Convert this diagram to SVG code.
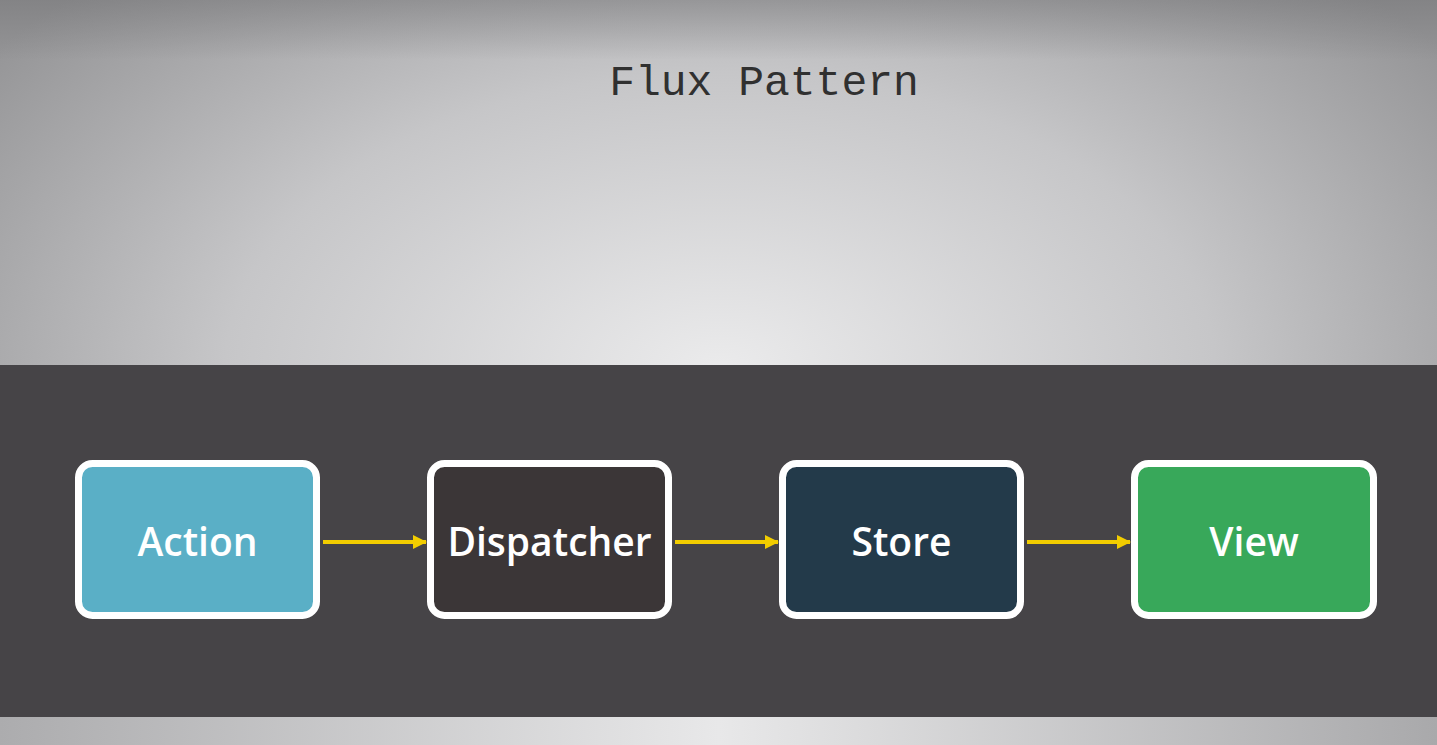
<svg xmlns="http://www.w3.org/2000/svg" width="1437" height="745" viewBox="0 0 1437 745">
<style>
.box{stroke:#ffffff;stroke-width:7}
.lbl{font-family:"Open Sans","Noto Sans",sans-serif;font-weight:600;font-size:39px;fill:#ffffff;text-anchor:middle}
.conn{stroke:#f2cd00;stroke-width:4;fill:none}
</style>
<defs>
<radialGradient id="bg" cx="720" cy="370" r="900" gradientUnits="userSpaceOnUse" gradientTransform="translate(720 370) scale(1 0.6) translate(-720 -370)">
<stop offset="0" stop-color="#ebebec"/>
<stop offset="0.55" stop-color="#c6c6c8"/>
<stop offset="1" stop-color="#959597"/>
</radialGradient>
<linearGradient id="topshade" x1="0" y1="0" x2="0" y2="1">
<stop offset="0" stop-color="#6e6e70" stop-opacity="0.45"/>
<stop offset="1" stop-color="#6e6e70" stop-opacity="0"/>
</linearGradient>
<linearGradient id="bot" x1="0" y1="0" x2="1" y2="0">
<stop offset="0" stop-color="#acacae"/>
<stop offset="0.5" stop-color="#e8e8e9"/>
<stop offset="1" stop-color="#a9a9ab"/>
</linearGradient>
<marker id="ah" viewBox="0 0 14 14" refX="13" refY="7" markerWidth="14" markerHeight="14" markerUnits="userSpaceOnUse" orient="auto">
<path d="M0,0 L14,7 L0,14 Z" fill="#f2cd00"/>
</marker>
</defs>
<rect x="0" y="0" width="1437" height="745" fill="url(#bg)"/>
<rect x="0" y="0" width="1437" height="60" fill="url(#topshade)"/>
<rect x="0" y="717" width="1437" height="28" fill="url(#bot)"/>
<rect x="0" y="365" width="1437" height="352" fill="#464447"/>
<text x="764" y="95" font-family="'Liberation Mono','Courier New',monospace" font-size="43" fill="#303030" text-anchor="middle">Flux Pattern</text>
<g id="connectors">
<line class="conn" x1="323" y1="542" x2="426" y2="542" marker-end="url(#ah)"/>
<line class="conn" x1="675" y1="542" x2="778" y2="542" marker-end="url(#ah)"/>
<line class="conn" x1="1027" y1="542" x2="1130" y2="542" marker-end="url(#ah)"/>
</g>
<g id="action">
<rect class="box" x="78.500" y="463.500" width="238" height="152" rx="14" fill="#5aafc6"/>
<text class="lbl" x="197.500" y="556">Action</text>
</g>
<g id="dispatcher">
<rect class="box" x="430.500" y="463.500" width="238" height="152" rx="14" fill="#3b3637"/>
<text class="lbl" x="549.500" y="556">Dispatcher</text>
</g>
<g id="store">
<rect class="box" x="782.500" y="463.500" width="238" height="152" rx="14" fill="#233a4a"/>
<text class="lbl" x="901.500" y="556">Store</text>
</g>
<g id="view">
<rect class="box" x="1134.500" y="463.500" width="239" height="152" rx="14" fill="#38a85a"/>
<text class="lbl" x="1254" y="556">View</text>
</g>
</svg>
